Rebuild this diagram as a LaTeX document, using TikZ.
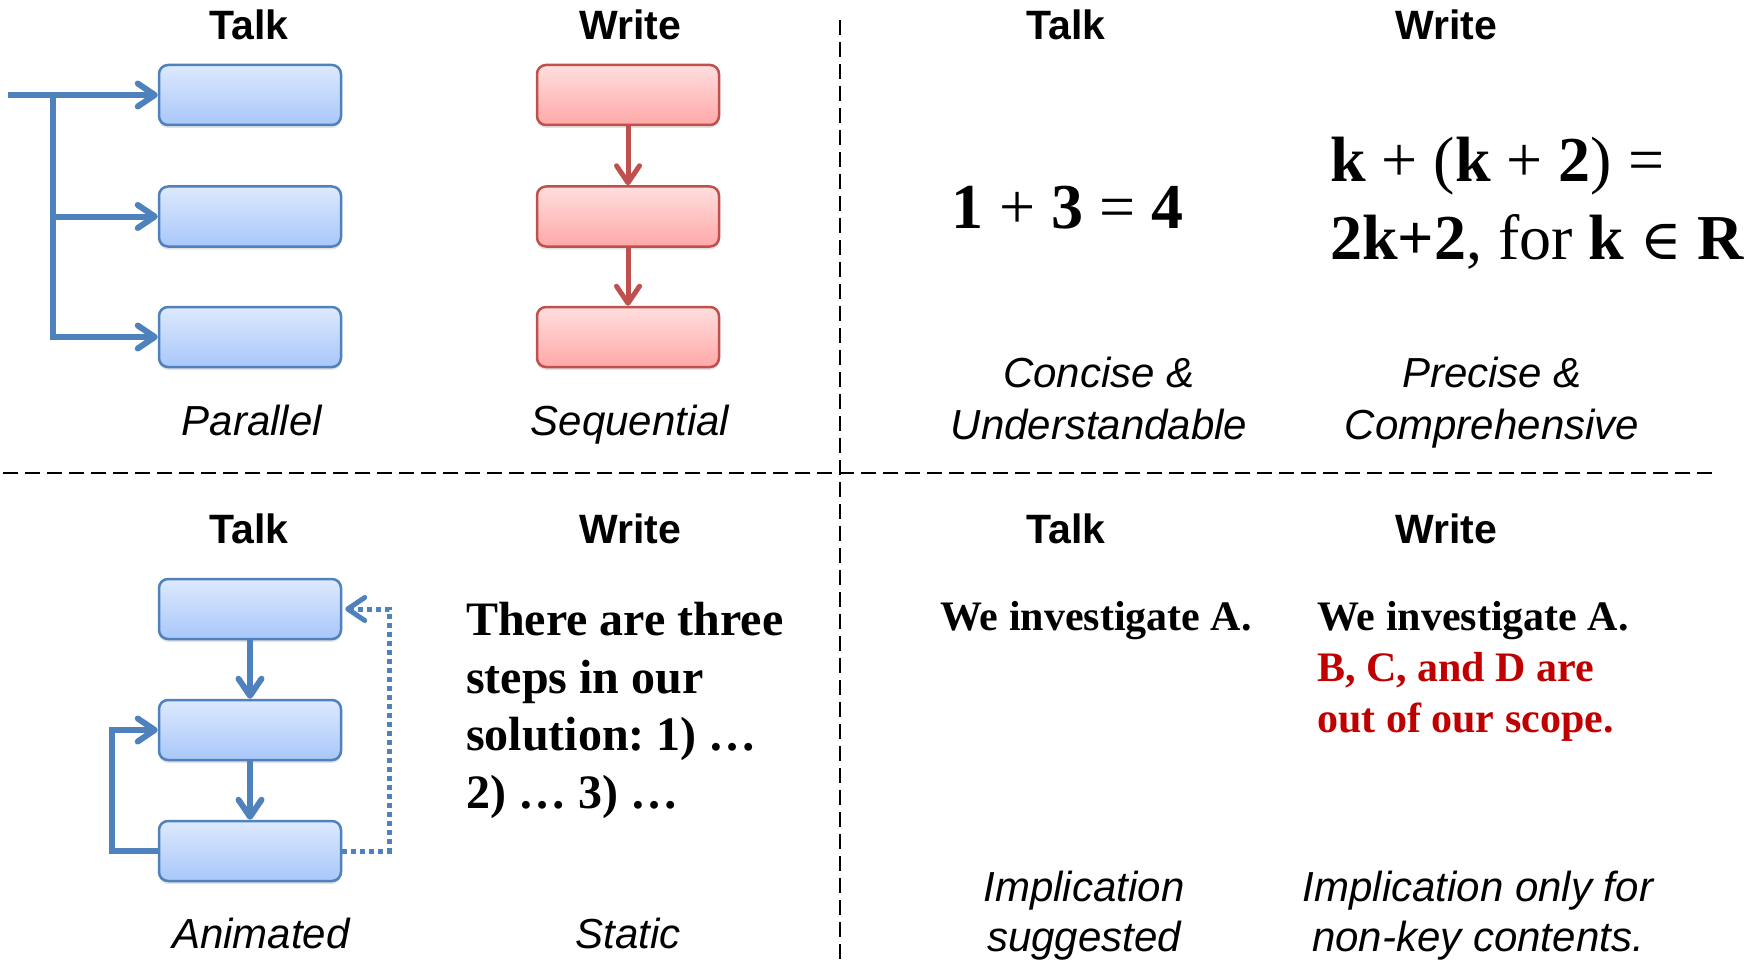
\documentclass[tikz,border=0pt]{standalone}
\usepackage{fontspec}
\setmainfont{Liberation Serif}
\setsansfont{Liberation Sans}
\newfontfamily\elemfont{DejaVu Serif}
\usetikzlibrary{arrows.meta,shadows}
\definecolor{bborder}{HTML}{4F81BD}
\definecolor{btop}{HTML}{DDE9FD}
\definecolor{bbot}{HTML}{A8C7FA}
\definecolor{rborder}{HTML}{C0504D}
\definecolor{rtop}{HTML}{FFDEDE}
\definecolor{rbot}{HTML}{FFA8A8}
\definecolor{scopered}{HTML}{C00000}
\frenchspacing
\tikzset{
  tbox/.style={rectangle, rounded corners=9pt, minimum width=182pt, minimum height=60pt,
    line width=2.5pt, inner sep=0pt,
    drop shadow={opacity=0.22, shadow xshift=0pt, shadow yshift=-3pt}},
  bluebox/.style={tbox, draw=bborder, top color=btop, bottom color=bbot},
  redbox/.style={tbox, draw=rborder, top color=rtop, bottom color=rbot},
  btip/.tip={Straight Barb[length=17pt,width=23pt,round]},
  barrow/.style={draw=bborder, line width=6pt, -btip},
  rarrow/.style={draw=rborder, line width=5pt, -btip},
  dotarrow/.style={draw=bborder, line width=5pt, dash pattern=on 5pt off 4pt, -btip},
  divider/.style={draw=black, line width=2pt, dash pattern=on 15pt off 7pt},
  title/.style={font=\sffamily\bfseries\fontsize{41}{49}\selectfont, anchor=base, inner sep=0pt},
  capt/.style={font=\sffamily\itshape\fontsize{42}{50}\selectfont, anchor=base, inner sep=0pt},
  mathtxt/.style={font=\rmfamily\fontsize{64}{77}\selectfont, anchor=base west, inner sep=0pt},
  stepstxt/.style={font=\rmfamily\bfseries\fontsize{48}{58}\selectfont, anchor=base west, inner sep=0pt},
  scopetxt/.style={font=\rmfamily\bfseries\fontsize{42}{50}\selectfont, anchor=base west, inner sep=0pt},
}
\begin{document}
\begin{tikzpicture}[x=1pt,y=-1pt]
\useasboundingbox (0,0) rectangle (1758,960);
% dividers
\coordinate (vtop) at (840,20);
\coordinate (vbot) at (840,960);
\coordinate (hl) at (3,473);
\coordinate (hr) at (1716,473);
\draw[divider] (vtop) -- (vbot);
\draw[divider] (hl) -- (hr);

% ---------- top left ----------
\node[title] (tlTalk) at (249,40) {Talk};
\node[title] (tlWrite) at (630,40) {Write};
\node[bluebox] (tb1) at (250,95) {};
\node[bluebox] (tb2) at (250,216.5) {};
\node[bluebox] (tb3) at (250,337) {};
\coordinate (tstart) at (8,95);
\coordinate (tj) at (53,95);
\draw[barrow] (tstart) -- (tb1.west);
\draw[barrow] (tj) |- (tb3.west);
\draw[barrow] (tj |- tb2.west) -- (tb2.west);
\node[redbox] (tr1) at (628,95) {};
\node[redbox] (tr2) at (628,216.5) {};
\node[redbox] (tr3) at (628,337) {};
\draw[rarrow] (tr1.south) -- (tr2.north);
\draw[rarrow] (tr2.south) -- (tr3.north);
\node[capt] (par) at (252,435) {Parallel};
\node[capt] (seq) at (630,435) {Sequential};

% ---------- top right ----------
\node[title] (trTalk) at (1066,40) {Talk};
\node[title] (trWrite) at (1446,40) {Write};
\node[mathtxt] (simple) at (951,229) {\textbf{1} + \textbf{3} = \textbf{4}};
\node[mathtxt] (prec1) at (1330,182) {\textbf{k} + (\textbf{k} + \textbf{2}) =};
\node[mathtxt] (prec2) at (1330,259) {\textbf{2k+2}, for \textbf{k} {\elemfont\fontsize{56}{68}\selectfont ∈} \textbf{R}};
\node[capt] (conc1) at (1099,387) {Concise \&};
\node[capt] (conc2) at (1099,439) {Understandable};
\node[capt] (prc1) at (1492,387) {Precise \&};
\node[capt] (prc2) at (1492,439) {Comprehensive};

% ---------- bottom left ----------
\node[title] (blTalk) at (249,543) {Talk};
\node[title] (blWrite) at (630,543) {Write};
\node[bluebox] (bb1) at (250,609) {};
\node[bluebox] (bb2) at (250,730) {};
\node[bluebox] (bb3) at (250,851) {};
\draw[barrow] (bb1.south) -- (bb2.north);
\draw[barrow] (bb2.south) -- (bb3.north);
\draw[barrow] (bb3.west) -- ++(-46,0) |- (bb2.west);
\draw[dotarrow, shorten >=3pt] (bb3.east) -- ++(47,0) |- (bb1.east);
\node[stepstxt] (st1) at (466,635) {There are three};
\node[stepstxt] (st2) at (466,693) {steps in our};
\node[stepstxt] (st3) at (466,750) {solution: 1) …};
\node[stepstxt] (st4) at (466,808) {2) … 3) …};
\node[capt] (anim) at (261,948) {Animated};
\node[capt] (stat) at (628,948) {Static};

% ---------- bottom right ----------
\node[title] (brTalk) at (1066,543) {Talk};
\node[title] (brWrite) at (1446,543) {Write};
\node[scopetxt] (inv1) at (940,630) {We investigate A.};
\node[scopetxt] (inv2) at (1317,630) {We investigate A.};
\node[scopetxt, text=scopered] (inv3) at (1317,681) {B, C, and D are};
\node[scopetxt, text=scopered] (inv4) at (1317,732) {out of our scope.};
\node[capt] (imp1) at (1084,901) {Implication};
\node[capt] (imp2) at (1084,951) {suggested};
\node[capt] (imp3) at (1478,901) {Implication only for};
\node[capt] (imp4) at (1478,951) {non-key contents.};
\end{tikzpicture}
\end{document}
